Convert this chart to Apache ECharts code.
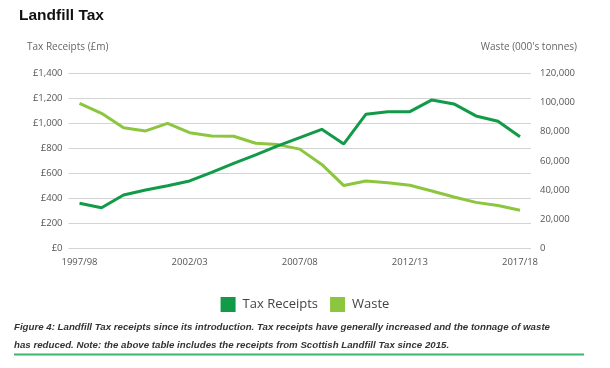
<!DOCTYPE html>
<html>
<head>
<meta charset="utf-8">
<script src="https://cdn.jsdelivr.net/npm/echarts@6/dist/echarts.min.js"></script>
<style>
html,body{margin:0;padding:0;background:#fff;}
#chart{width:610px;height:368px;}
</style>
</head>
<body>
<div id="chart"></div>
<script>
const years = ['1997/98','1998/99','1999/00','2000/01','2001/02','2002/03','2003/04','2004/05','2005/06','2006/07','2007/08','2008/09','2009/10','2010/11','2011/12','2012/13','2013/14','2014/15','2015/16','2016/17','2017/18'];
const taxReceipts = [360,325,427,467,501,539,608,680,747,819,885,952,835,1072,1093,1093,1187,1155,1059,1016,893];
const waste = [99400,92600,82700,80500,85700,79300,77000,76800,72000,71100,68000,57500,43000,46200,45000,43200,39300,35200,31500,29300,26100];
const leftTicks = {min:0, max:1400, interval:200};
const rightTicks = {min:0, max:120000, interval:20000};

const darkGreen = '#119a48';
const lightGreen = '#8cc63f';
const font = 'Open Sans, Lato, sans-serif';

const chart = echarts.init(document.getElementById('chart'), null, {renderer:'canvas'});
chart.setOption({
  animation:false,
  backgroundColor:'#fff',
  title:{
    text:'Landfill Tax', left:14, top:3,
    textStyle:{fontSize:15.5, fontWeight:'bold', color:'#111', fontFamily:'Liberation Sans, Arial, sans-serif'}
  },
  graphic:[
    {type:'text', left:27, top:42, style:{text:'Tax Receipts (£m)', fontSize:10, fill:'#666', fontFamily:font}},
    {type:'text', right:33, top:42, style:{text:"Waste (000's tonnes)", fontSize:10, fill:'#666', fontFamily:font}},
    {type:'text', left:14, top:322, style:{text:'Figure 4: Landfill Tax receipts since its introduction. Tax receipts have generally increased and the tonnage of waste', fontSize:9.7, fontStyle:'italic', fontWeight:'bold', fill:'#333', fontFamily:'Liberation Sans, Arial, sans-serif'}},
    {type:'text', left:14, top:340, style:{text:'has reduced. Note: the above table includes the receipts from Scottish Landfill Tax since 2015.', fontSize:9.7, fontStyle:'italic', fontWeight:'bold', fill:'#333', fontFamily:'Liberation Sans, Arial, sans-serif'}},
    {type:'rect', shape:{x:14, y:353.5, width:570, height:2}, style:{fill:'#3cb66a'}}
  ],
  legend:{
    data:['Tax Receipts','Waste'],
    left:'center', top:292,
    itemWidth:15, itemHeight:15, itemGap:12,
    icon:'rect',
    textStyle:{fontSize:13, color:'#444', fontFamily:font, padding:[0,0,0,2]}
  },
  grid:{left:68.5, right:79, top:73.3, bottom:119.7},
  xAxis:{
    type:'category', data:years, boundaryGap:true,
    axisLine:{show:false}, axisTick:{show:false},
    axisLabel:{interval:4, color:'#555', fontSize:9.5, fontFamily:font, margin:9},
    splitLine:{show:false}
  },
  yAxis:[
    {type:'value', min:leftTicks.min, max:leftTicks.max, interval:leftTicks.interval, position:'left',
     axisLine:{show:false}, axisTick:{show:false},
     axisLabel:{color:'#555', fontSize:9.5, fontFamily:font, margin:6,
       formatter:v=>'£'+v.toLocaleString('en-GB')},
     splitLine:{lineStyle:{color:'#d4d4d4', width:1}}},
    {type:'value', min:rightTicks.min, max:rightTicks.max, interval:rightTicks.interval, position:'right',
     axisLine:{show:false}, axisTick:{show:false},
     axisLabel:{color:'#555', fontSize:9.5, fontFamily:font, margin:9,
       formatter:v=>v.toLocaleString('en-GB')},
     splitLine:{show:false}}
  ],
  series:[
    {name:'Tax Receipts', type:'line', yAxisIndex:0, data:taxReceipts, symbol:'none',
     lineStyle:{color:darkGreen, width:3}, itemStyle:{color:darkGreen}, z:3},
    {name:'Waste', type:'line', yAxisIndex:1, data:waste, symbol:'none',
     lineStyle:{color:lightGreen, width:3}, itemStyle:{color:lightGreen}, z:2}
  ]
});
</script>
</body>
</html>
